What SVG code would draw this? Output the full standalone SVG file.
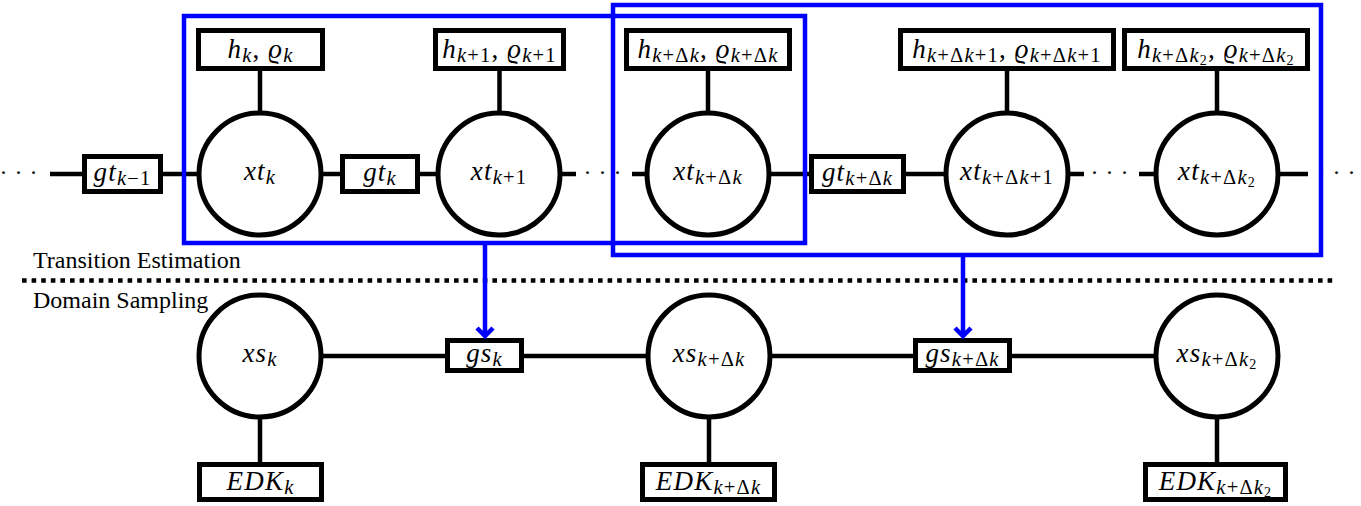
<svg xmlns="http://www.w3.org/2000/svg" width="1361" height="506" viewBox="0 0 1361 506" font-family="'Liberation Serif', 'DejaVu Serif', serif">
<style>
.nd circle{fill:#fff;stroke:#000;stroke-width:5}
.nd rect{fill:#fff;stroke:#000;stroke-width:5}
.c line{stroke:#000;stroke-width:4.5}
.blue rect{fill:none;stroke:#0000ff;stroke-width:4.5}
.blue line,.blue polyline{fill:none;stroke:#0000ff;stroke-width:4.5}
text{font-family:'Liberation Serif','DejaVu Serif',serif;fill:#000}
.m{font-size:27px;text-anchor:middle;letter-spacing:1.2px}
.i{font-style:italic}
.s{font-size:20.5px}
.ss{font-size:14px}
.lbl{font-size:24px}
.dots{font-size:24px;text-anchor:middle;letter-spacing:7px}
</style>

<!-- connectors -->
<g class="c" id="connectors">
<line x1="50" y1="174" x2="84" y2="174"/>
<line x1="161" y1="174" x2="199" y2="174"/>
<line x1="321" y1="174" x2="342" y2="174"/>
<line x1="418" y1="174" x2="438" y2="174"/>
<line x1="560" y1="174" x2="576" y2="174"/>
<line x1="632" y1="174" x2="647" y2="174"/>
<line x1="769" y1="174" x2="811" y2="174"/>
<line x1="904" y1="174" x2="946" y2="174"/>
<line x1="1068" y1="174" x2="1084" y2="174"/>
<line x1="1139" y1="174" x2="1156" y2="174"/>
<line x1="1278" y1="174" x2="1308" y2="174"/>
<line x1="260" y1="69" x2="260" y2="113"/>
<line x1="499.5" y1="69" x2="499.5" y2="113"/>
<line x1="708" y1="69" x2="708" y2="113"/>
<line x1="1007" y1="69" x2="1007" y2="113"/>
<line x1="1217" y1="69" x2="1217" y2="113"/>
<line x1="321" y1="356" x2="447" y2="356"/>
<line x1="522" y1="356" x2="648" y2="356"/>
<line x1="770" y1="356" x2="915" y2="356"/>
<line x1="1010" y1="356" x2="1156" y2="356"/>
<line x1="260" y1="417" x2="260" y2="464"/>
<line x1="709" y1="417" x2="709" y2="464"/>
<line x1="1217" y1="417" x2="1217" y2="464"/>
<line x1="22" y1="280.5" x2="1336" y2="280.5" stroke-dasharray="4.6 5"/>
</g>

<!-- dots -->
<text class="dots" x="22" y="180">···</text>
<text class="dots" x="606" y="180">···</text>
<text class="dots" x="1113" y="180">···</text>
<text class="dots" x="1340" y="180">···</text>

<!-- top row h boxes -->
<g class="nd" id="h_k"><rect x="198.5" y="30.5" width="124" height="38"/>
<text class="m" x="260.5" y="58"><tspan class="i">h</tspan><tspan class="s i" dy="4">k</tspan><tspan dy="-4">, </tspan><tspan class="i">ϱ</tspan><tspan class="s i" dy="4">k</tspan></text></g>
<g class="nd" id="h_k1"><rect x="435.5" y="30.5" width="128" height="38"/>
<text class="m" x="499.5" y="58"><tspan class="i">h</tspan><tspan class="s" dy="4"><tspan class="i">k</tspan>+1</tspan><tspan dy="-4">, </tspan><tspan class="i">ϱ</tspan><tspan class="s" dy="4"><tspan class="i">k</tspan>+1</tspan></text></g>
<g class="nd" id="h_kd"><rect x="626.5" y="30.5" width="163" height="38"/>
<text class="m" x="708" y="58"><tspan class="i">h</tspan><tspan class="s" dy="4"><tspan class="i">k</tspan>+Δ<tspan class="i">k</tspan></tspan><tspan dy="-4">, </tspan><tspan class="i">ϱ</tspan><tspan class="s" dy="4"><tspan class="i">k</tspan>+Δ<tspan class="i">k</tspan></tspan></text></g>
<g class="nd" id="h_kd1"><rect x="900.5" y="30.5" width="213" height="38"/>
<text class="m" x="1007" y="58"><tspan class="i">h</tspan><tspan class="s" dy="4"><tspan class="i">k</tspan>+Δ<tspan class="i">k</tspan>+1</tspan><tspan dy="-4">, </tspan><tspan class="i">ϱ</tspan><tspan class="s" dy="4"><tspan class="i">k</tspan>+Δ<tspan class="i">k</tspan>+1</tspan></text></g>
<g class="nd" id="h_kd2"><rect x="1124.5" y="30.5" width="183" height="38"/>
<text class="m" x="1216" y="58"><tspan class="i">h</tspan><tspan class="s" dy="4"><tspan class="i">k</tspan>+Δ<tspan class="i">k</tspan></tspan><tspan class="ss" dy="3">2</tspan><tspan dy="-7">, </tspan><tspan class="i">ϱ</tspan><tspan class="s" dy="4"><tspan class="i">k</tspan>+Δ<tspan class="i">k</tspan></tspan><tspan class="ss" dy="3">2</tspan></text></g>

<!-- top row gt boxes -->
<g class="nd" id="gt_km1"><rect x="84.5" y="156.5" width="76" height="35"/>
<text class="m" x="122.5" y="181"><tspan class="i">gt</tspan><tspan class="s" dy="4"><tspan class="i">k</tspan>−1</tspan></text></g>
<g class="nd" id="gt_k"><rect x="342.5" y="156.5" width="75" height="35"/>
<text class="m" x="380" y="181"><tspan class="i">gt</tspan><tspan class="s i" dy="4">k</tspan></text></g>
<g class="nd" id="gt_kd"><rect x="811.5" y="156.5" width="92" height="35"/>
<text class="m" x="857.5" y="181"><tspan class="i">gt</tspan><tspan class="s" dy="4"><tspan class="i">k</tspan>+Δ<tspan class="i">k</tspan></tspan></text></g>

<!-- top row circles -->
<g class="nd" id="xt_k"><circle cx="260" cy="174" r="61"/>
<text class="m" x="260" y="180"><tspan class="i">xt</tspan><tspan class="s i" dy="4">k</tspan></text></g>
<g class="nd" id="xt_k1"><circle cx="499" cy="174" r="61"/>
<text class="m" x="499" y="180"><tspan class="i">xt</tspan><tspan class="s" dy="4"><tspan class="i">k</tspan>+1</tspan></text></g>
<g class="nd" id="xt_kd"><circle cx="708" cy="174" r="61"/>
<text class="m" x="708" y="180"><tspan class="i">xt</tspan><tspan class="s" dy="4"><tspan class="i">k</tspan>+Δ<tspan class="i">k</tspan></tspan></text></g>
<g class="nd" id="xt_kd1"><circle cx="1007" cy="174" r="61"/>
<text class="m" x="1007" y="180"><tspan class="i">xt</tspan><tspan class="s" dy="4"><tspan class="i">k</tspan>+Δ<tspan class="i">k</tspan>+1</tspan></text></g>
<g class="nd" id="xt_kd2"><circle cx="1217" cy="174" r="61"/>
<text class="m" x="1217" y="180"><tspan class="i">xt</tspan><tspan class="s" dy="4"><tspan class="i">k</tspan>+Δ<tspan class="i">k</tspan></tspan><tspan class="ss" dy="3">2</tspan></text></g>

<!-- bottom row -->
<g class="nd" id="xs_k"><circle cx="260" cy="356" r="61"/>
<text class="m" x="260" y="362"><tspan class="i">xs</tspan><tspan class="s i" dy="4">k</tspan></text></g>
<g class="nd" id="xs_kd"><circle cx="709" cy="356" r="61"/>
<text class="m" x="709" y="362"><tspan class="i">xs</tspan><tspan class="s" dy="4"><tspan class="i">k</tspan>+Δ<tspan class="i">k</tspan></tspan></text></g>
<g class="nd" id="xs_kd2"><circle cx="1217" cy="356" r="61"/>
<text class="m" x="1217" y="362"><tspan class="i">xs</tspan><tspan class="s" dy="4"><tspan class="i">k</tspan>+Δ<tspan class="i">k</tspan></tspan><tspan class="ss" dy="3">2</tspan></text></g>
<g class="nd" id="gs_k"><rect x="447.5" y="340.5" width="74" height="30"/>
<text class="m" x="484.5" y="362"><tspan class="i">gs</tspan><tspan class="s i" dy="4">k</tspan></text></g>
<g class="nd" id="gs_kd"><rect x="915.5" y="340.5" width="94" height="30"/>
<text class="m" x="962.5" y="362"><tspan class="i">gs</tspan><tspan class="s" dy="4"><tspan class="i">k</tspan>+Δ<tspan class="i">k</tspan></tspan></text></g>
<g class="nd" id="edk_k"><rect x="199.5" y="464.5" width="122" height="35"/>
<text class="m" x="260.5" y="490"><tspan class="i">EDK</tspan><tspan class="s i" dy="4">k</tspan></text></g>
<g class="nd" id="edk_kd"><rect x="642.5" y="464.5" width="132" height="35"/>
<text class="m" x="708.5" y="490"><tspan class="i">EDK</tspan><tspan class="s" dy="4"><tspan class="i">k</tspan>+Δ<tspan class="i">k</tspan></tspan></text></g>
<g class="nd" id="edk_kd2"><rect x="1145.5" y="464.5" width="140" height="35"/>
<text class="m" x="1215.5" y="490"><tspan class="i">EDK</tspan><tspan class="s" dy="4"><tspan class="i">k</tspan>+Δ<tspan class="i">k</tspan></tspan><tspan class="ss" dy="3">2</tspan></text></g>

<!-- blue groupings and arrows -->
<g class="blue" id="groups">
<rect x="184" y="16" width="621" height="227"/>
<rect x="613" y="5" width="708" height="250"/>
<line x1="485" y1="243" x2="485" y2="335"/>
<polyline points="477,328 485,336 493,328"/>
<line x1="963" y1="255" x2="963" y2="335"/>
<polyline points="955,328 963,336 971,328"/>
</g>

<text class="lbl" x="33" y="268">Transition Estimation</text>
<text class="lbl" x="33" y="308">Domain Sampling</text>
</svg>
